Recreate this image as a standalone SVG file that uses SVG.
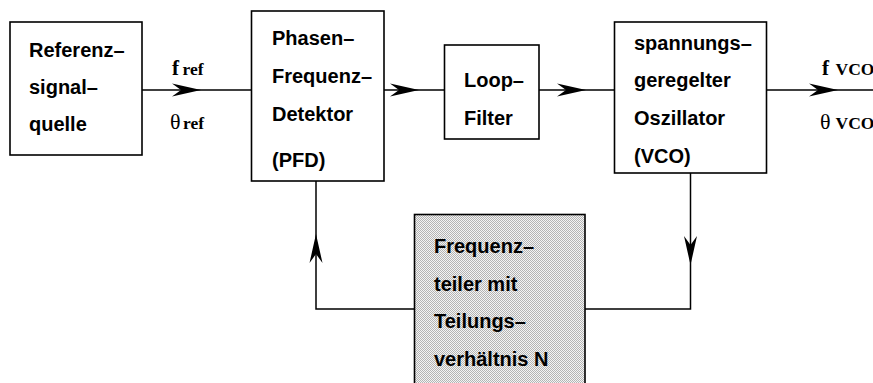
<svg xmlns="http://www.w3.org/2000/svg" width="873" height="383" viewBox="0 0 873 383">
  <style>
    .box { fill: #ffffff; stroke: #000000; stroke-width: 1.6; }
    .shaded { fill: url(#dither); stroke: #000000; stroke-width: 1.6; }
    .wire { fill: none; stroke: #000000; stroke-width: 1.5; }
    .lbl { font-family: "Liberation Sans", Arial, Helvetica, sans-serif; font-weight: bold; font-size: 20px; fill: #000000; }
    .sig { font-family: "Liberation Serif", "Times New Roman", serif; font-weight: bold; font-size: 21px; fill: #000000; }
    .theta { font-weight: normal; font-size: 22px; }
    .sub { font-weight: bold; font-size: 17.5px; }
  </style>
  <defs>
    <pattern id="dither" width="2" height="2" patternUnits="userSpaceOnUse">
      <rect width="2" height="2" fill="#f4f4f4"/>
      <rect width="1" height="1" fill="#b4b4b4"/>
      <rect x="1" y="1" width="1" height="1" fill="#b4b4b4"/>
    </pattern>
    <!-- barbed arrowhead, tip at the path end -->
    <marker id="barb" markerUnits="userSpaceOnUse" markerWidth="1" markerHeight="1" refX="0" refY="0" orient="auto" overflow="visible">
      <path d="M0,0 L-29,-6.5 L-20,0 L-29,6.5 Z" fill="#000000"/>
    </marker>
  </defs>

  <!-- signal paths -->
  <g id="connectors">
    <path class="wire" d="M142 90 L201 90" marker-end="url(#barb)"/>
    <path class="wire" d="M201 90 L251 90"/>
    <path class="wire" d="M384 90 L419 90" marker-end="url(#barb)"/>
    <path class="wire" d="M419 90 L444 90"/>
    <path class="wire" d="M539 90 L586 90" marker-end="url(#barb)"/>
    <path class="wire" d="M586 90 L614 90"/>
    <path class="wire" d="M767 90 L838 90" marker-end="url(#barb)"/>
    <path class="wire" d="M838 90 L873 90"/>
    <!-- feedback loop -->
    <path class="wire" d="M690.5 173 L690.5 265" marker-end="url(#barb)"/>
    <path class="wire" d="M690.5 265 L690.5 309 L585 309"/>
    <path class="wire" d="M414 309 L316 309 L316 234" marker-end="url(#barb)"/>
    <path class="wire" d="M316 234 L316 181"/>
  </g>

  <!-- signal labels -->
  <g id="labels">
    <text class="sig" x="172" y="75">f<tspan class="sub" x="182.5">ref</tspan></text>
    <text class="sig" x="170" y="129"><tspan class="theta">θ</tspan><tspan class="sub" x="183">ref</tspan></text>
    <text class="sig" x="822" y="75">f<tspan class="sub" x="835.5">VCO</tspan></text>
    <text class="sig" x="820" y="129"><tspan class="theta">θ</tspan><tspan class="sub" x="835.5">VCO</tspan></text>
  </g>

  <g id="reference-source">
    <rect class="box" x="10" y="22" width="132" height="133"/>
    <text class="lbl" x="29" y="57">Referenz–</text>
    <text class="lbl" x="29" y="94">signal–</text>
    <text class="lbl" x="29" y="131">quelle</text>
  </g>

  <g id="pfd">
    <rect class="box" x="251.5" y="11" width="132.5" height="170"/>
    <text class="lbl" x="272" y="45">Phasen–</text>
    <text class="lbl" x="272" y="83">Frequenz–</text>
    <text class="lbl" x="272" y="121">Detektor</text>
    <text class="lbl" x="272" y="167">(PFD)</text>
  </g>

  <g id="loop-filter">
    <rect class="box" x="444.5" y="45" width="94.5" height="94"/>
    <text class="lbl" x="464" y="87">Loop–</text>
    <text class="lbl" x="464" y="125">Filter</text>
  </g>

  <g id="vco">
    <rect class="box" x="614.5" y="22" width="152" height="151"/>
    <text class="lbl" x="634" y="50">spannungs–</text>
    <text class="lbl" x="634" y="87">geregelter</text>
    <text class="lbl" x="634" y="125">Oszillator</text>
    <text class="lbl" x="634" y="163">(VCO)</text>
  </g>

  <g id="divider">
    <rect class="shaded" x="414.5" y="214.5" width="170.5" height="180"/>
    <text class="lbl" x="434" y="253">Frequenz–</text>
    <text class="lbl" x="434" y="291">teiler mit</text>
    <text class="lbl" x="434" y="328">Teilungs–</text>
    <text class="lbl" x="434" y="366">verhältnis N</text>
  </g>
</svg>
